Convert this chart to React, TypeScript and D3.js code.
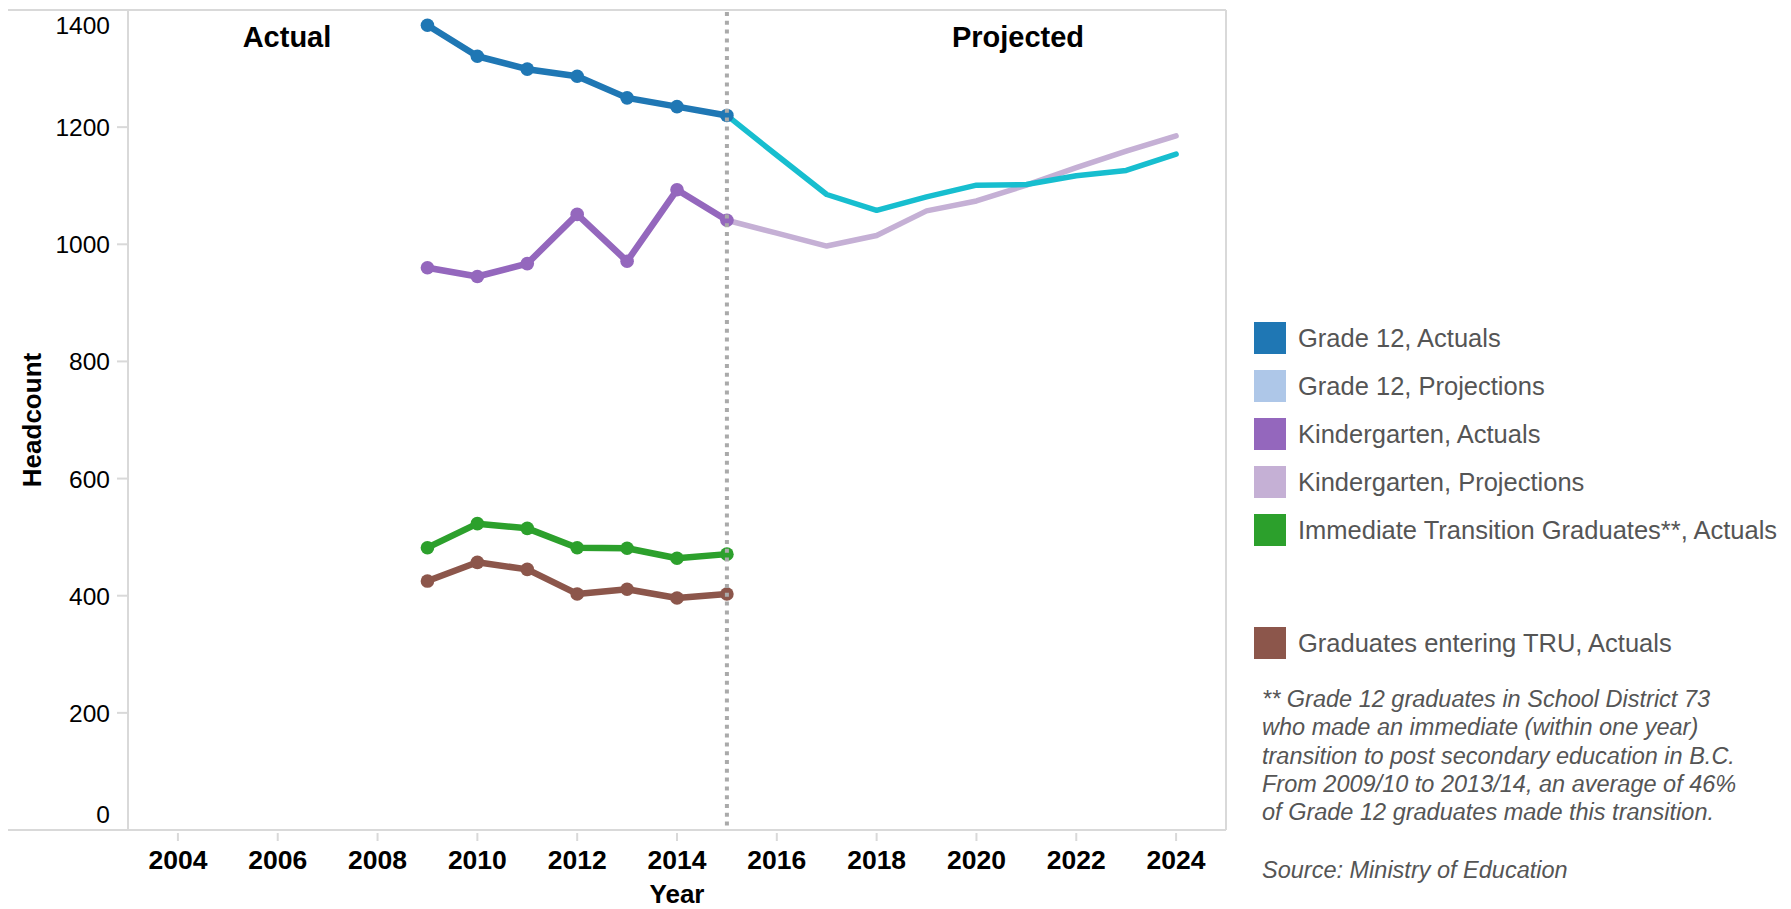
import React from "react";
import * as d3 from "d3";

const actualYears = [2009, 2010, 2011, 2012, 2013, 2014, 2015];
const projYears = [2015, 2016, 2017, 2018, 2019, 2020, 2021, 2022, 2023, 2024];

const grade12Actual = [1374, 1321, 1299, 1287, 1250, 1235, 1220];
const kinderActual = [960, 945, 967, 1051, 971, 1093, 1041];
const transitionActual = [482, 523, 515, 482, 481, 464, 471];
const truActual = [425, 457, 445, 403, 411, 396, 403];

const grade12Proj = [1220, 1152, 1085, 1058, 1081, 1101, 1102, 1117, 1126, 1154];
const kinderProj = [1041, 1019, 997, 1015, 1057, 1074, 1101, 1131, 1159, 1185];

const yTicks = [0, 200, 400, 600, 800, 1000, 1200, 1400];
const xTicks = [2004, 2006, 2008, 2010, 2012, 2014, 2016, 2018, 2020, 2022, 2024];

const legendItems = [
  { label: "Grade 12, Actuals", color: "#1f77b4" },
  { label: "Grade 12, Projections", color: "#aec7e8" },
  { label: "Kindergarten, Actuals", color: "#9467bd" },
  { label: "Kindergarten, Projections", color: "#c5b0d5" },
  { label: "Immediate Transition Graduates**, Actuals", color: "#2ca02c" },
  { label: "Graduates entering TRU, Actuals", color: "#8c564b" },
];

const footnoteLines = [
  "** Grade 12 graduates in School District 73",
  "who made an immediate (within one year)",
  "transition to post secondary education in B.C.",
  "From 2009/10 to 2013/14, an average of 46%",
  "of Grade 12 graduates made this transition.",
];

const FONT = "'Liberation Sans', Arial, sans-serif";

export default function App() {
  const left = 128, right = 1226, top = 10, bottom = 830;
  const x = d3.scaleLinear().domain([2003, 2025]).range([left, right]);
  const y = d3.scaleLinear().domain([0, 1400]).range([bottom, top]);

  const line = d3
    .line<[number, number]>()
    .x((d) => x(d[0]))
    .y((d) => y(d[1]));

  const zip = (xs: number[], vs: number[]) => xs.map((yr, i) => [yr, vs[i]] as [number, number]);

  const actualSeries = [
    { vals: truActual, color: "#8c564b" },
    { vals: transitionActual, color: "#2ca02c" },
    { vals: kinderActual, color: "#9467bd" },
    { vals: grade12Actual, color: "#1f77b4" },
  ];
  const projSeries = [
    { vals: kinderProj, color: "#c5b0d5" },
    { vals: grade12Proj, color: "#17becf" },
  ];

  const legendCenters = [338, 386, 434, 482, 530, 643];
  const gridColor = "#d9d9d9";

  return (
    <svg
      width={1791}
      height={909}
      style={{ position: "absolute", left: 0, top: 0, background: "#fff" }}
      fontFamily={FONT}
    >
      <rect x={0} y={0} width={1791} height={909} fill="#fff" />
      {/* frame */}
      <line x1={8} x2={right} y1={top} y2={top} stroke={gridColor} strokeWidth={2} />
      <line x1={8} x2={right} y1={bottom} y2={bottom} stroke={gridColor} strokeWidth={2} />
      <line x1={left} x2={left} y1={top} y2={bottom} stroke={gridColor} strokeWidth={2} />
      <line x1={right} x2={right} y1={top} y2={bottom} stroke={gridColor} strokeWidth={2} />

      {/* y axis ticks and labels */}
      {yTicks.map((t) => {
        const yy = y(t);
        const base = Math.min(Math.max(yy + 9, 34), 823);
        return (
          <g key={"y" + t}>
            {t !== 0 && t !== 1400 && (
              <line x1={117} x2={left} y1={yy} y2={yy} stroke={gridColor} strokeWidth={2} />
            )}
            <text x={110} y={base} textAnchor="end" fontSize={24.5} fill="#000">
              {t}
            </text>
          </g>
        );
      })}

      {/* x axis ticks and labels */}
      {xTicks.map((t) => (
        <g key={"x" + t}>
          <line x1={x(t)} x2={x(t)} y1={833} y2={841} stroke={gridColor} strokeWidth={2} />
          <text x={x(t)} y={869} textAnchor="middle" fontSize={26.5} fontWeight="bold" fill="#000">
            {t}
          </text>
        </g>
      ))}

      <text x={(left + right) / 2} y={903} textAnchor="middle" fontSize={26} fontWeight="bold" fill="#000">
        Year
      </text>
      <text
        transform={`translate(40.5, ${(top + bottom) / 2}) rotate(-90)`}
        textAnchor="middle"
        fontSize={26}
        fontWeight="bold"
        fill="#000"
      >
        Headcount
      </text>

      {/* projection lines */}
      {projSeries.map((s, i) => (
        <path
          key={"p" + i}
          d={line(zip(projYears, s.vals)) || ""}
          fill="none"
          stroke={s.color}
          strokeWidth={5.5}
          strokeLinejoin="round"
          strokeLinecap="round"
        />
      ))}

      {/* actual lines with markers */}
      {actualSeries.map((s, i) => (
        <g key={"a" + i}>
          <path
            d={line(zip(actualYears, s.vals)) || ""}
            fill="none"
            stroke={s.color}
            strokeWidth={6.5}
            strokeLinejoin="round"
            strokeLinecap="round"
          />
          {s.vals.map((v, j) => (
            <circle key={j} cx={x(actualYears[j])} cy={y(v)} r={6.8} fill={s.color} />
          ))}
        </g>
      ))}

      {/* divider */}
      <line
        x1={x(2015)}
        x2={x(2015)}
        y1={top + 2}
        y2={bottom - 2}
        stroke="#aaaaaa"
        strokeWidth={4}
        strokeDasharray="4 4.8"
      />

      <text x={287} y={46.5} textAnchor="middle" fontSize={29} fontWeight="bold" fill="#000">
        Actual
      </text>
      <text x={1018} y={46.5} textAnchor="middle" fontSize={29} fontWeight="bold" fill="#000">
        Projected
      </text>

      {/* legend */}
      {legendItems.map((it, i) => (
        <g key={"l" + i}>
          <rect x={1254} y={legendCenters[i] - 16} width={32} height={32} fill={it.color} />
          <text x={1298} y={legendCenters[i] + 9} fontSize={25.5} fill="#555">
            {it.label}
          </text>
        </g>
      ))}

      {/* footnote */}
      {footnoteLines.map((ln, i) => (
        <text key={"f" + i} x={1262} y={706.7 + 28.4 * i} fontSize={23.5} fontStyle="italic" fill="#555">
          {ln}
        </text>
      ))}
      <text x={1262} y={878.3} fontSize={23.5} fontStyle="italic" fill="#555">
        Source: Ministry of Education
      </text>
    </svg>
  );
}
